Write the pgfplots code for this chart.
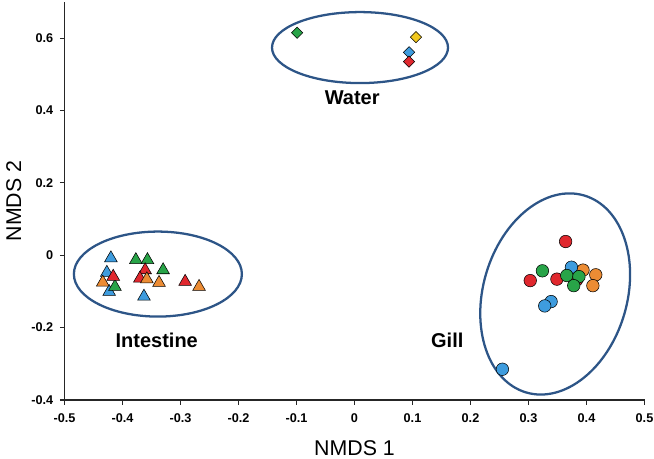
\documentclass[border=0pt]{standalone}
\usepackage{pgfplots}
\pgfplotsset{compat=1.18}
\usepackage{fontspec}
\setmainfont{Liberation Sans}
\usetikzlibrary{shapes.geometric}
\definecolor{cblue}{RGB}{62,156,222}
\definecolor{cgreen}{RGB}{40,164,72}
\definecolor{cred}{RGB}{224,40,46}
\definecolor{corange}{RGB}{236,140,52}
\definecolor{cyellow}{RGB}{242,200,30}
\definecolor{cell}{RGB}{45,85,135}
\definecolor{cedge}{RGB}{160,160,170}
\begin{document}
\begin{tikzpicture}
\path[use as bounding box] (-48.375pt,-44.25pt) rectangle (442.125pt,300pt);
\begin{axis}[
  at={(0pt,0pt)}, anchor=south west,
  scale only axis, width=435pt, height=298.5pt,
  xmin=-0.5, xmax=0.5, ymin=-0.4, ymax=0.7,
  axis lines=left,
  axis line style={-, line width=0.9pt, black!85},
  xtick={-0.5,-0.4,-0.3,-0.2,-0.1,0,0.1,0.2,0.3,0.4,0.5},
  xticklabels={-0.5,-0.4,-0.3,-0.2,-0.1,0,0.1,0.2,0.3,0.4,0.5},
  ytick={-0.4,-0.2,0,0.2,0.4,0.6},
  yticklabels={-0.4,-0.2,0,0.2,0.4,0.6},
  tick align=outside, major tick length=3.5pt,
  tick style={black!85, line width=0.8pt},
  xticklabel style={font=\bfseries\fontsize{9.5}{11}\selectfont, yshift=-3pt},
  yticklabel style={font=\bfseries\fontsize{9.5}{11}\selectfont, xshift=-1.5pt},
  xlabel={NMDS 1}, ylabel={NMDS 2},
  xlabel style={font=\fontsize{16}{18}\selectfont, at={(rel axis cs:0.5,0)}, anchor=center, yshift=-36pt},
  ylabel style={font=\fontsize{16}{18}\selectfont, at={(rel axis cs:0,0.5)}, anchor=center, rotate=0, yshift=38pt},
  clip=false,
  every axis plot/.append style={only marks, mark options={draw=cedge, line width=0.35pt}},
]
% ellipses
\node[draw=cell, line width=1.7pt, ellipse, inner sep=0pt, minimum width=132pt, minimum height=53.25pt] at (axis cs:0.0095,0.574) {};
\node[draw=cell, line width=1.7pt, ellipse, inner sep=0pt, minimum width=126pt, minimum height=63.75pt] at (axis cs:-0.339,-0.052) {};
\node[draw=cell, line width=1.7pt, ellipse, inner sep=0pt, minimum width=154pt, minimum height=108pt, rotate=73.6] at (axis cs:0.346,-0.107) {};
% water diamonds
\addplot[mark=square*, mark size=3pt, mark options={fill=cgreen, rotate=45}] coordinates {(-0.099,0.615)};
\addplot[mark=square*, mark size=3pt, mark options={fill=cyellow, rotate=45}] coordinates {(0.106,0.603)};
\addplot[mark=square*, mark size=3pt, mark options={fill=cblue, rotate=45}] coordinates {(0.094,0.561)};
\addplot[mark=square*, mark size=3pt, mark options={fill=cred, rotate=45}] coordinates {(0.094,0.535)};
% intestine triangles
\addplot[mark=triangle*, mark size=5.5pt, mark options={fill=cblue}] coordinates {(-0.420,-0.008) (-0.427,-0.048) (-0.423,-0.101) (-0.363,-0.114)};
\addplot[mark=triangle*, mark size=5.5pt, mark options={fill=cgreen}] coordinates {(-0.377,-0.013) (-0.357,-0.013) (-0.330,-0.041) (-0.413,-0.087)};
\addplot[mark=triangle*, mark size=5.5pt, mark options={fill=cred}] coordinates {(-0.361,-0.041) (-0.370,-0.064) (-0.416,-0.059) (-0.292,-0.073)};
\addplot[mark=triangle*, mark size=5.5pt, mark options={fill=corange}] coordinates {(-0.358,-0.066) (-0.434,-0.075) (-0.337,-0.076) (-0.268,-0.087)};
% gill circles
\addplot[mark=*, mark size=4.7pt, mark options={fill=corange}] coordinates {(0.394,-0.041) (0.416,-0.054) (0.411,-0.084)};
\addplot[mark=*, mark size=4.7pt, mark options={fill=cred}] coordinates {(0.364,0.038) (0.303,-0.070) (0.349,-0.066) (0.383,-0.068)};
\addplot[mark=*, mark size=4.7pt, mark options={fill=cblue}] coordinates {(0.374,-0.033) (0.339,-0.128) (0.328,-0.140) (0.255,-0.315)};
\addplot[mark=*, mark size=4.7pt, mark options={fill=cgreen}] coordinates {(0.324,-0.043) (0.366,-0.056) (0.387,-0.059) (0.378,-0.084)};
% group labels
\node[font=\bfseries\fontsize{15}{17}\selectfont] at (axis cs:-0.004,0.435) {Water};
\node[font=\bfseries\fontsize{15}{17}\selectfont] at (axis cs:-0.341,-0.234) {Intestine};
\node[font=\bfseries\fontsize{15}{17}\selectfont] at (axis cs:0.160,-0.236) {Gill};
\end{axis}
\end{tikzpicture}
\end{document}
